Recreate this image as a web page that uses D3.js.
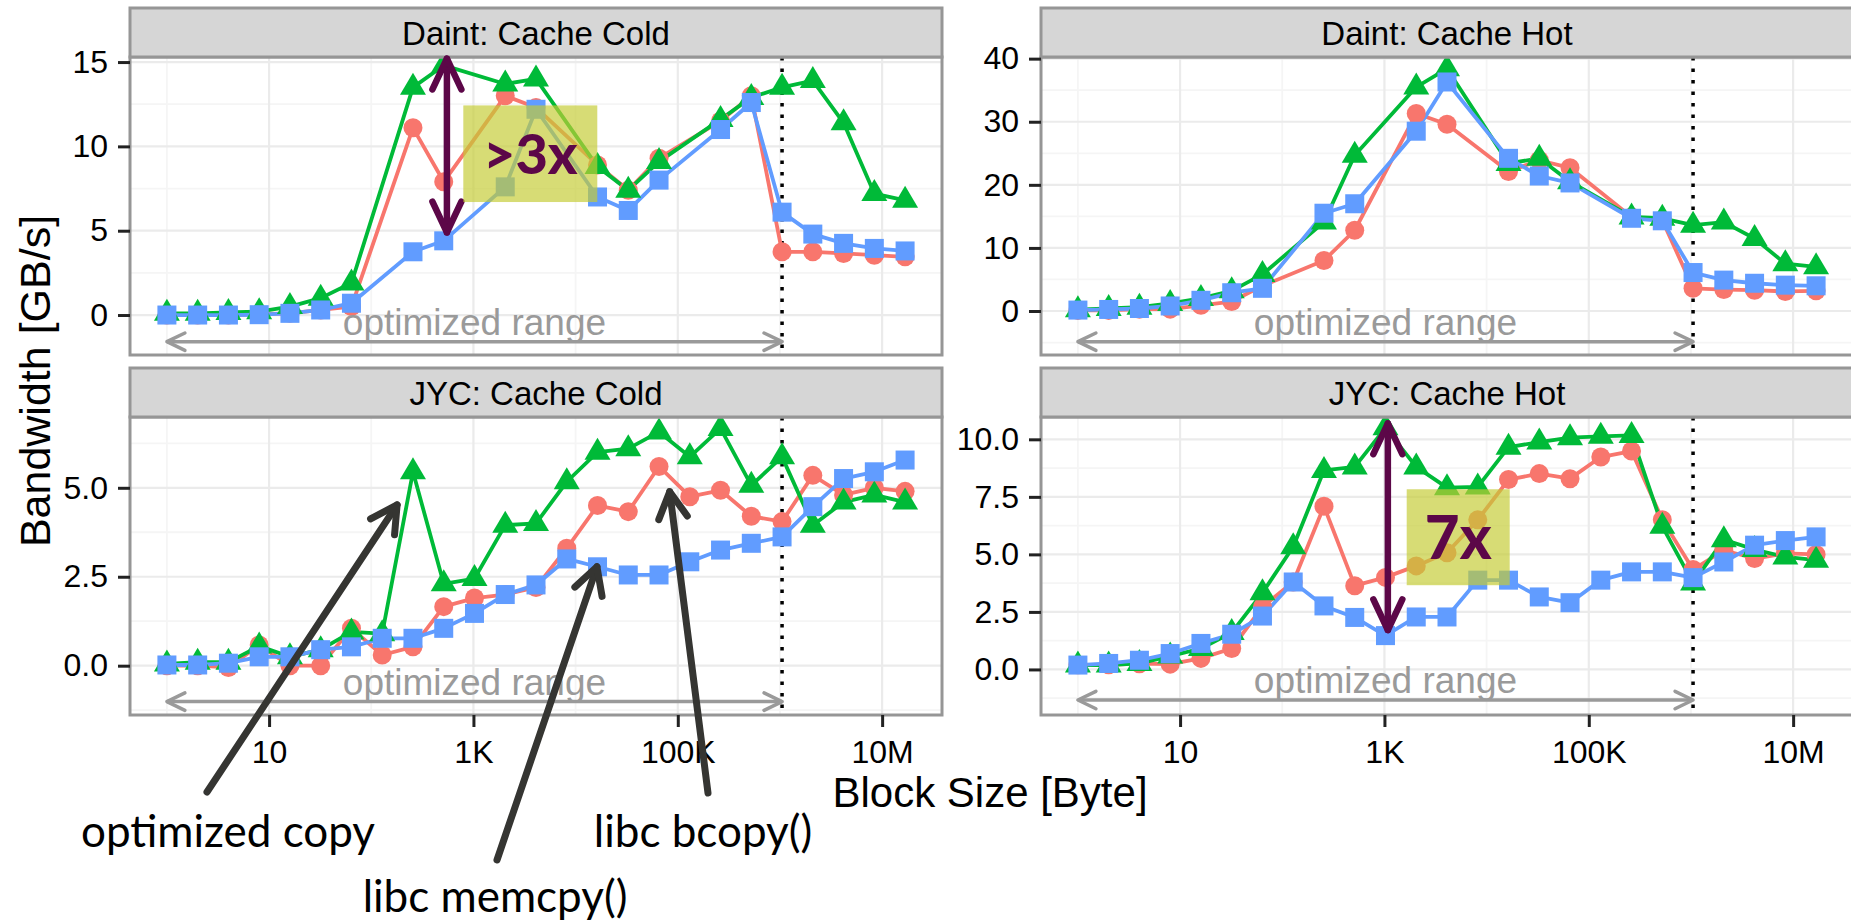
<!DOCTYPE html>
<html>
<head>
<meta charset="utf-8">
<title>Bandwidth vs block size</title>
<script src="https://cdn.jsdelivr.net/npm/d3@7"></script>
<style>
  body { margin: 0; background: #fff; }
  svg { display: block; font-family: "Liberation Sans", Arial, sans-serif; }
  .grid-major { stroke: #ebebeb; stroke-width: 2.2; }
  .grid-minor { stroke: #f5f5f5; stroke-width: 1.8; }
  .axis path.domain { display: none; }
  .axis line { stroke: #222; stroke-width: 3; }
  .axis text { font-size: 32px; fill: #000; font-family: "Liberation Sans", Arial, sans-serif; }
  .note { font-family: Lato, "Open Sans", sans-serif; }
</style>
</head>
<body>
<script>
// block sizes in bytes (2^0 .. 2^24)
const sizes = [1, 2, 4, 8, 16, 32, 64, 128, 256, 512, 1024, 2048, 4096, 8192, 16384,
  32768, 65536, 131072, 262144, 524288, 1048576, 2097152, 4194304, 8388608, 16777216]

const facetTitles = ['Daint: Cache Cold', 'Daint: Cache Hot', 'JYC: Cache Cold', 'JYC: Cache Hot']
const seriesNames = ['libc bcopy()', 'optimized copy', 'libc memcpy()']
const seriesColors = ['#F8766D', '#00BA38', '#619CFF']

// bandwidth in GB/s, null = not measured
const daintColdBcopy = [0, 0, 0, 0.05, 0.1, 0.3, 0.5, null, 11.1, 7.9, null, 13.0, 12.3, null, 8.9, 7.4, 9.3, null, 11.5, 13.0, 3.75, 3.75, 3.65, 3.55, 3.45]
const daintColdCopy = [0.1, 0.1, 0.15, 0.2, 0.5, 1.0, 1.9, null, 13.5, 14.8, null, 13.7, 14.0, null, 8.8, 7.4, 9.1, null, 11.6, 12.9, 13.5, 13.9, 11.4, 7.2, 6.8]
const daintColdMemcpy = [0, 0, 0, 0.02, 0.1, 0.3, 0.7, null, 3.75, 4.4, null, 7.6, 12.2, null, 7.0, 6.2, 8.0, null, 11.0, 12.6, 6.1, 4.8, 4.25, 3.95, 3.8]

const daintHotBcopy = [0.1, 0.1, 0.3, 0.3, 0.9, 1.5, 4.0, null, 8.0, 12.8, null, 31.3, 29.6, null, 22.1, 23.9, 22.7, null, 14.9, 14.4, 3.6, 3.4, 3.3, 3.1, 3.2]
const daintHotCopy = [0.2, 0.4, 0.6, 1.2, 2.0, 3.2, 5.8, null, 14.1, 24.7, null, 35.5, 38.4, null, 23.4, 24.2, 20.5, null, 14.9, 14.7, 13.6, 14.1, 11.5, 7.5, 7.0]
const daintHotMemcpy = [0.15, 0.25, 0.4, 0.8, 1.7, 2.9, 3.6, null, 15.5, 17.0, null, 28.5, 36.3, null, 24.2, 21.4, 20.3, null, 14.7, 14.3, 6.1, 4.9, 4.4, 4.1, 4.0]

const jycColdBcopy = [0, 0, -0.05, 0.58, 0, 0, 1.05, 0.3, 0.53, 1.66, 1.9, 2.0, 2.2, 3.3, 4.5, 4.33, 5.6, 4.75, 4.93, 4.2, 4.05, 5.35, 4.8, 5.0, 4.9]
const jycColdCopy = [0.05, 0.1, 0.1, 0.55, 0.25, 0.45, 0.95, 0.9, 5.45, 2.3, 2.45, 3.95, 4.0, 5.17, 6.0, 6.1, 6.57, 5.87, 6.67, 5.07, 5.87, 3.95, 4.6, 4.8, 4.6]
const jycColdMemcpy = [0.02, 0.02, 0.07, 0.25, 0.25, 0.45, 0.53, 0.77, 0.77, 1.05, 1.47, 2.0, 2.27, 3.0, 2.78, 2.55, 2.55, 2.92, 3.25, 3.44, 3.62, 4.47, 5.26, 5.45, 5.78]

const jycHotBcopy = [0.2, 0.2, 0.25, 0.23, 0.48, 0.91, 2.72, 3.8, 7.09, 3.64, 4.0, 4.5, 5.07, 6.5, 8.25, 8.51, 8.29, 9.23, 9.49, 6.51, 4.34, 5.18, 4.82, 5.04, 5.0]
const jycHotCopy = [0.19, 0.19, 0.26, 0.58, 0.91, 1.6, 3.33, 5.33, 8.65, 8.8, 10.5, 8.8, 7.9, 7.93, 9.66, 9.88, 10.07, 10.13, 10.17, 6.22, 3.76, 5.64, 5.21, 4.89, 4.75]
const jycHotMemcpy = [0.19, 0.26, 0.4, 0.69, 1.13, 1.53, 2.32, 3.8, 2.76, 2.26, 1.47, 2.28, 2.28, 3.88, 3.88, 3.15, 2.9, 3.88, 4.24, 4.24, 3.99, 4.67, 5.4, 5.6, 5.76]

const yTicksDaintCold = [0, 5, 10, 15]
const yLabelsDaintCold = ['0', '5', '10', '15']
const yTicksDaintHot = [0, 10, 20, 30, 40]
const yLabelsDaintHot = ['0', '10', '20', '30', '40']
const yTicksJycCold = [0, 2.5, 5]
const yLabelsJycCold = ['0.0', '2.5', '5.0']
const yTicksJycHot = [0, 2.5, 5, 7.5, 10]
const yLabelsJycHot = ['0.0', '2.5', '5.0', '7.5', '10.0']

const xTicks = [10, 1e3, 1e5, 1e7]
const xTickLabels = ['10', '1K', '100K', '10M']
const xMinorTicks = [1, 1e2, 1e4, 1e6]

// end of the optimized range (dotted line)
const rangeEnd = 1048576
// height of the "optimized range" arrow in each facet
const rangeArrowY = [-1.58, -4.86, -1.01, -1.33]

// speedup call-outs
const speedupNotes = [
  { panel: 0, x: 550, from: 15.2, to: 4.9, boxX: [796, 16300], boxY: [6.7, 12.43], label: '>3x', size: 56 },
  { panel: 3, x: 1080, from: 10.69, to: 1.71, boxX: [1652, 16830], boxY: [3.66, 7.83], label: '7x', size: 60 }
]

// pointers into the JYC cold facet: tip in data units
const pointerTipX = [179, 16180, 83370]
const pointerTipY = [4.52, 2.78, 4.89]

// ---------------------------------------------------------------
const svgWidth = 1851
const svgHeight = 922
const svg = d3.select('body').append('svg')
  .attr('width', svgWidth).attr('height', svgHeight)

const panelW = 812
const panelH = 298
const stripH = 49
const cols = [130, 1041]
const rows = [57, 417]

const xMin = d3.min(sizes)
const xMax = d3.max(sizes)
const spread = Math.pow(xMax / xMin, 0.05)
const xDomain = [xMin / spread, xMax * spread]

const panels = [
  { title: facetTitles[0], series: [daintColdBcopy, daintColdCopy, daintColdMemcpy],
    yDomain: [-2.37, 15.3], yTicks: yTicksDaintCold, yLabels: yLabelsDaintCold, col: 0, row: 0 },
  { title: facetTitles[1], series: [daintHotBcopy, daintHotCopy, daintHotMemcpy],
    yDomain: [-6.97, 40.26], yTicks: yTicksDaintHot, yLabels: yLabelsDaintHot, col: 1, row: 0 },
  { title: facetTitles[2], series: [jycColdBcopy, jycColdCopy, jycColdMemcpy],
    yDomain: [-1.386, 6.99], yTicks: yTicksJycCold, yLabels: yLabelsJycCold, col: 0, row: 1 },
  { title: facetTitles[3], series: [jycHotBcopy, jycHotCopy, jycHotMemcpy],
    yDomain: [-1.98, 10.97], yTicks: yTicksJycHot, yLabels: yLabelsJycHot, col: 1, row: 1 }
]

// open "V" arrow head at tip, coming from `from`
function arrowHead(g, tip, from, len, angle, color, width) {
  const dx = tip[0] - from[0], dy = tip[1] - from[1]
  const d = Math.hypot(dx, dy)
  const ux = dx / d, uy = dy / d
  const arm = a => [
    tip[0] - len * (ux * Math.cos(a) - uy * Math.sin(a)),
    tip[1] - len * (uy * Math.cos(a) + ux * Math.sin(a))
  ]
  g.append('path')
    .attr('d', `M${arm(angle)}L${tip}L${arm(-angle)}`)
    .attr('fill', 'none').attr('stroke', color).attr('stroke-width', width)
    .attr('stroke-linecap', 'round').attr('stroke-linejoin', 'round')
}

panels.forEach((p, k) => {
  const left = cols[p.col]
  const top = rows[p.row]
  const x = d3.scaleLog().domain(xDomain).range([0, panelW])
  const y = d3.scaleLinear().domain(p.yDomain).range([panelH, 0])
  p.x = x; p.y = y

  const g = svg.append('g').attr('transform', `translate(${left},${top})`)
  p.g = g

  // grid
  const step = p.yTicks[1] - p.yTicks[0]
  const yMinor = [p.yTicks[0] - step / 2].concat(p.yTicks.map(t => t + step / 2))
    .filter(v => v > p.yDomain[0] && v < p.yDomain[1])
  g.append('g').selectAll('line').data(yMinor).enter().append('line')
    .attr('class', 'grid-minor')
    .attr('x1', 0).attr('x2', panelW).attr('y1', d => y(d)).attr('y2', d => y(d))
  g.append('g').selectAll('line').data(xMinorTicks).enter().append('line')
    .attr('class', 'grid-minor')
    .attr('y1', 0).attr('y2', panelH).attr('x1', d => x(d)).attr('x2', d => x(d))
  g.append('g').selectAll('line').data(p.yTicks).enter().append('line')
    .attr('class', 'grid-major')
    .attr('x1', 0).attr('x2', panelW).attr('y1', d => y(d)).attr('y2', d => y(d))
  g.append('g').selectAll('line').data(xTicks).enter().append('line')
    .attr('class', 'grid-major')
    .attr('y1', 0).attr('y2', panelH).attr('x1', d => x(d)).attr('x2', d => x(d))

  // dotted boundary of optimized range
  g.append('line')
    .attr('x1', x(rangeEnd)).attr('x2', x(rangeEnd)).attr('y1', 0).attr('y2', panelH)
    .attr('stroke', '#000').attr('stroke-width', 3.5).attr('stroke-dasharray', '3.5,8')

  const seriesPts = p.series.map(vals =>
    sizes.map((size, i) => ({ size, value: vals[i] })).filter(d => d.value != null))

  const line = d3.line().x(d => x(d.size)).y(d => y(d.value))
  seriesPts.forEach((pts, s) => {
    g.append('path').datum(pts)
      .attr('d', line)
      .attr('fill', 'none')
      .attr('stroke', seriesColors[s])
      .attr('stroke-width', 3.8)
      .attr('stroke-linejoin', 'round')
  })

  seriesPts.forEach((pts, s) => {
    const layer = g.append('g').attr('fill', seriesColors[s])
    if (s === 0) {
      layer.selectAll('circle').data(pts).enter().append('circle')
        .attr('cx', d => x(d.size)).attr('cy', d => y(d.value)).attr('r', 9.5)
    } else if (s === 1) {
      layer.selectAll('path').data(pts).enter().append('path')
        .attr('d', d => {
          const cx = x(d.size), cy = y(d.value)
          return `M${cx},${cy - 14.5}L${cx + 13},${cy + 7.5}L${cx - 13},${cy + 7.5}Z`
        })
    } else {
      layer.selectAll('rect').data(pts).enter().append('rect')
        .attr('x', d => x(d.size) - 9.5).attr('y', d => y(d.value) - 9.5)
        .attr('width', 19).attr('height', 19)
    }
  })

  // optimized range arrow
  const ry = y(rangeArrowY[k])
  const x0 = x(sizes[0])
  const x1 = x(rangeEnd)
  g.append('line').attr('x1', x0).attr('x2', x1).attr('y1', ry).attr('y2', ry)
    .attr('stroke', '#9a9a9a').attr('stroke-width', 3.5)
  arrowHead(g, [x0, ry], [x1, ry], 20, 0.45, '#9a9a9a', 3.5)
  arrowHead(g, [x1, ry], [x0, ry], 20, 0.45, '#9a9a9a', 3.5)
  g.append('text')
    .attr('x', x(Math.sqrt(sizes[0] * rangeEnd))).attr('y', ry - 7)
    .attr('text-anchor', 'middle')
    .attr('fill', '#9a9a9a')
    .style('font-size', '37px')
    .text('optimized range')

  // panel border
  g.append('rect').attr('x', 0).attr('y', 0).attr('width', panelW).attr('height', panelH)
    .attr('fill', 'none').attr('stroke', '#969696').attr('stroke-width', 3)

  // strip
  g.append('rect').attr('x', 0).attr('y', -stripH).attr('width', panelW).attr('height', stripH)
    .attr('fill', '#d6d6d6').attr('stroke', '#969696').attr('stroke-width', 3)
  g.append('text')
    .attr('x', panelW / 2).attr('y', -stripH / 2 + 12)
    .attr('text-anchor', 'middle')
    .style('font-size', '33px')
    .text(p.title)

  // axes
  g.append('g').attr('class', 'axis')
    .call(d3.axisLeft(y).tickValues(p.yTicks)
      .tickFormat((d, i) => p.yLabels[i]).tickSize(12).tickPadding(10))
  if (p.row === 1) {
    g.append('g').attr('class', 'axis')
      .attr('transform', `translate(0,${panelH})`)
      .call(d3.axisBottom(x).tickValues(xTicks)
        .tickFormat((d, i) => xTickLabels[i]).tickSize(12).tickPadding(13))
  }
})

// speedup boxes and arrows
const purple = '#5c0748'
speedupNotes.forEach(n => {
  const p = panels[n.panel]
  const g = p.g
  const ax = p.x(n.x)
  const top = [ax, p.y(n.from)]
  const bottom = [ax, p.y(n.to)]
  g.append('line').attr('x1', ax).attr('x2', ax).attr('y1', top[1]).attr('y2', bottom[1])
    .attr('stroke', purple).attr('stroke-width', 6.5).attr('stroke-linecap', 'round')
  arrowHead(g, top, bottom, 34, 0.44, purple, 6.5)
  arrowHead(g, bottom, top, 34, 0.44, purple, 6.5)

  const bx0 = p.x(n.boxX[0]), bx1 = p.x(n.boxX[1])
  const by0 = p.y(n.boxY[1]), by1 = p.y(n.boxY[0])
  g.append('rect').attr('x', bx0).attr('y', by0).attr('width', bx1 - bx0).attr('height', by1 - by0)
    .attr('fill', 'rgba(196,204,52,0.68)')
  g.append('text').attr('class', 'note')
    .attr('x', (bx0 + bx1) / 2).attr('y', (by0 + by1) / 2)
    .attr('dy', '0.36em')
    .attr('text-anchor', 'middle')
    .attr('fill', purple)
    .style('font-size', n.size + 'px').style('font-weight', 900)
    .text(n.label)
})

// axis titles
svg.append('text')
  .attr('transform', 'translate(50,381) rotate(-90)')
  .attr('text-anchor', 'middle')
  .style('font-size', '43px')
  .text('Bandwidth [GB/s]')
svg.append('text')
  .attr('x', 990).attr('y', 807)
  .attr('text-anchor', 'middle')
  .style('font-size', '42px')
  .text('Block Size [Byte]')

// labelled pointers into the JYC cold facet (copy, memcpy, bcopy)
const jyc = panels[2]
const pointerTail = [[207, 792], [497, 860], [708, 793]]
const pointerLabelPos = [[228, 847], [495, 912], [703, 847]]
const pointerOrder = [1, 2, 0]
pointerOrder.forEach((s, j) => {
  const tip = [cols[jyc.col] + jyc.x(pointerTipX[j]), rows[jyc.row] + jyc.y(pointerTipY[j])]
  const tail = pointerTail[j]
  svg.append('line')
    .attr('x1', tail[0]).attr('y1', tail[1]).attr('x2', tip[0]).attr('y2', tip[1])
    .attr('stroke', '#353532').attr('stroke-width', 7).attr('stroke-linecap', 'round')
  arrowHead(svg, tip, tail, 30, 0.5, '#353532', 7)
  svg.append('text').attr('class', 'note')
    .attr('x', pointerLabelPos[j][0]).attr('y', pointerLabelPos[j][1])
    .attr('text-anchor', 'middle')
    .style('font-size', '44px')
    .text(seriesNames[s])
})
</script>
</body>
</html>
